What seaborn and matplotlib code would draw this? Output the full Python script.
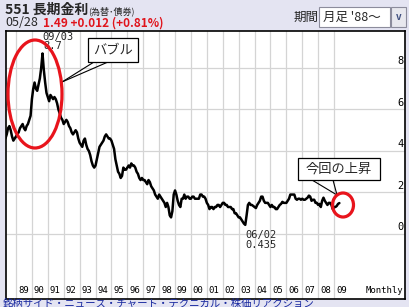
import matplotlib
matplotlib.use("Agg")
import matplotlib.pyplot as plt
from matplotlib.patches import Ellipse, Rectangle
import seaborn as sns
import pandas as pd
import numpy as np

sns.set_theme(style="white")
plt.rcParams['font.family'] = ['Noto Sans CJK JP', 'DejaVu Sans']

# Monthly 10y yield, from 1988-05 to 2009-05
start_year = 1988
start_month = 5
y1988 = [4.6, 4.8, 5.1, 5.2, 5.0, 4.7, 4.5, 4.6]
y1989 = [4.7, 4.8, 4.9, 5.1, 5.2, 5.3, 5.1, 5.0, 5.2, 5.3, 5.5, 5.7]
y1990 = [6.5, 7.0, 7.3, 7.0, 6.9, 7.2, 7.5, 8.0, 8.7, 7.9, 7.3, 6.8]
y1991 = [6.6, 6.4, 6.7, 6.6, 6.5, 6.6, 6.5, 6.3, 6.0, 5.8, 5.6, 5.5]
y1992 = [5.3, 5.4, 5.5, 5.4, 5.2, 5.1, 4.9, 4.8, 4.9, 5.0, 4.9, 4.6]
y1993 = [4.4, 4.3, 4.2, 4.5, 4.6, 4.3, 4.1, 4.0, 3.8, 3.5, 3.3, 3.2]
y1994 = [3.3, 3.6, 3.9, 4.2, 4.3, 4.4, 4.5, 4.7, 4.8, 4.7, 4.6, 4.6]
y1995 = [4.5, 4.3, 4.1, 3.6, 3.3, 3.0, 2.9, 2.7, 2.8, 3.2, 3.1, 3.1]
y1996 = [3.2, 3.3, 3.2, 3.4, 3.3, 3.3, 3.2, 3.0, 2.9, 2.7, 2.6, 2.7]
y1997 = [2.6, 2.6, 2.5, 2.4, 2.6, 2.5, 2.3, 2.2, 2.1, 1.9, 1.8, 1.7]
y1998 = [1.9, 1.8, 1.7, 1.6, 1.5, 1.3, 1.5, 1.3, 0.9, 0.8, 1.1, 1.9]
y1999 = [2.1, 1.9, 1.6, 1.4, 1.3, 1.7, 1.7, 1.9, 1.7, 1.8, 1.8, 1.7]
y2000 = [1.7, 1.8, 1.8, 1.7, 1.7, 1.7, 1.7, 1.9, 1.9, 1.8, 1.8, 1.7]
y2001 = [1.5, 1.4, 1.2, 1.3, 1.3, 1.2, 1.3, 1.3, 1.4, 1.4, 1.3, 1.4]
y2002 = [1.5, 1.5, 1.4, 1.4, 1.3, 1.3, 1.3, 1.2, 1.2, 1.0, 1.0, 0.9]
y2003 = [0.8, 0.8, 0.7, 0.6, 0.5, 0.44, 0.9, 1.4, 1.5, 1.4, 1.4, 1.35]
y2004 = [1.3, 1.25, 1.4, 1.5, 1.6, 1.8, 1.8, 1.6, 1.5, 1.5, 1.5, 1.4]
y2005 = [1.3, 1.4, 1.3, 1.3, 1.2, 1.2, 1.3, 1.4, 1.45, 1.55, 1.5, 1.5]
y2006 = [1.5, 1.6, 1.7, 1.9, 1.9, 1.9, 1.9, 1.7, 1.65, 1.7, 1.7, 1.65]
y2007 = [1.7, 1.65, 1.65, 1.7, 1.75, 1.85, 1.8, 1.6, 1.65, 1.65, 1.5, 1.5]
y2008 = [1.4, 1.45, 1.3, 1.6, 1.75, 1.6, 1.5, 1.4, 1.5, 1.5, 1.4, 1.2]
y2009 = [1.3, 1.3, 1.35, 1.45, 1.49]

year_labels = ["89", "90", "91", "92", "93", "94", "95", "96", "97", "98", "99",
               "00", "01", "02", "03", "04", "05", "06", "07", "08", "09"]
y_ticks = [0, 2, 4, 6, 8]

values = (y1988 + y1989 + y1990 + y1991 + y1992 + y1993 + y1994 + y1995 + y1996
          + y1997 + y1998 + y1999 + y2000 + y2001 + y2002 + y2003 + y2004 + y2005
          + y2006 + y2007 + y2008 + y2009)
t = [start_year + (start_month - 1 + i) / 12.0 for i in range(len(values))]
df = pd.DataFrame({"t": t, "v": values})

W, H = 409, 307
bg = "#e4e4f2"
fig = plt.figure(figsize=(W / 100, H / 100), dpi=100, facecolor=bg)

def fx(px):
    return px / W

def fy(py):
    return 1 - py / H

ax = fig.add_axes([fx(6), fy(299), fx(405) - fx(6), fy(31) - fy(299)])
ax.set_facecolor("white")

years = list(range(1989, 2010))
for yr in years:
    ax.axvline(yr, color="#d4d4d4", lw=0.9, zorder=0)
for yv in y_ticks:
    ax.axhline(yv, color="#d4d4d4", lw=0.9, zorder=0)

sns.lineplot(data=df, x="t", y="v", ax=ax, color="black", lw=1.8, zorder=3)

ax.set_xlim(1988.371, 2013.46)
ax.set_ylim(-3.133, 9.783)
ax.set_xticks([])
ax.set_yticks([])
ax.set_xlabel("")
ax.set_ylabel("")
for s in ax.spines.values():
    s.set_color("black")
    s.set_linewidth(1.2)

mono = "DejaVu Sans Mono"
for yr, lab in zip(years, year_labels):
    ax.text(yr + 0.12, -2.95, lab, fontsize=6.5, family=mono, ha="left", va="bottom", color="black")
ax.text(2013.35, -2.95, "Monthly", fontsize=6.5, family=mono, ha="right", va="bottom", color="black")
for yv in y_ticks:
    ax.text(2013.38, yv + 0.08, str(yv), fontsize=7.5, family=mono, ha="right", va="bottom", color="black")

# annotations (figure pixel coords)
ft = fig.transFigure
fig.text(fx(42), fy(37), "09/03", fontsize=7.5, family=mono, ha="left", va="center")
fig.text(fx(43), fy(46), "8.7", fontsize=7.5, family=mono, ha="left", va="center")
fig.text(fx(245), fy(235), "06/02", fontsize=7.5, family=mono, ha="left", va="center")
fig.text(fx(245), fy(245), "0.435", fontsize=7.5, family=mono, ha="left", va="center")

fig.patches.append(Ellipse((fx(35), fy(94)), fx(54), 108 / H, transform=ft,
                           fill=False, ec="#e8141c", lw=2.3, zorder=5))
fig.patches.append(Ellipse((fx(343), fy(205)), fx(21), 24 / H, transform=ft,
                           fill=False, ec="#e8141c", lw=2.3, zorder=5))

# callout boxes
fig.patches.append(Rectangle((fx(88), fy(62)), fx(50), 24 / H, transform=ft,
                             fc="white", ec="black", lw=0.9, zorder=6))
fig.text(fx(113), fy(50), "バブル", fontsize=9.5, ha="center", va="center", zorder=7)
fig.lines.append(plt.Line2D([fx(94), fx(62)], [fy(62), fy(82)], transform=ft, color="black", lw=0.8))
fig.lines.append(plt.Line2D([fx(108), fx(62)], [fy(62), fy(82)], transform=ft, color="black", lw=0.8))

fig.patches.append(Rectangle((fx(298), fy(180)), fx(82), 22 / H, transform=ft,
                             fc="white", ec="black", lw=0.9, zorder=6))
fig.text(fx(339), fy(169), "今回の上昇", fontsize=9.5, ha="center", va="center", zorder=7)
fig.lines.append(plt.Line2D([fx(312), fx(337)], [fy(180), fy(195)], transform=ft, color="black", lw=0.8))
fig.lines.append(plt.Line2D([fx(333), fx(337)], [fy(180), fy(195)], transform=ft, color="black", lw=0.8))

# header
fig.text(fx(5), fy(10), "551 長期金利", fontsize=10, fontweight="bold", ha="left", va="center")
fig.text(fx(88), fy(11), "(為替･債券)", fontsize=6.5, ha="left", va="center")
fig.text(fx(5), fy(23), "05/28", fontsize=9, ha="left", va="center")
fig.text(fx(43), fy(23), "1.49 +0.012 (+0.81%)", fontsize=8.5, fontweight="bold",
         color="#e0141c", ha="left", va="center")
fig.text(fx(294), fy(17), "期間", fontsize=9, ha="left", va="center")
fig.patches.append(Rectangle((fx(319), fy(27)), fx(71), 20 / H, transform=ft,
                             fc="white", ec="#8c8c9c", lw=0.8))
fig.text(fx(323), fy(17), "月足 '88～", fontsize=9, ha="left", va="center")
fig.patches.append(Rectangle((fx(391), fy(27)), fx(15), 20 / H, transform=ft,
                             fc="#e8e8ee", ec="#8c8c9c", lw=0.8))
fig.text(fx(398.5), fy(17), "v", fontsize=7, fontweight="bold", color="#405080", ha="center", va="center")

# footer
fig.text(fx(3), fy(303.5), "銘柄サイド・ニュース・チャート・テクニカル・株価リアクション", fontsize=7.5,
         color="#1a2aa0", ha="left", va="center")

fig.savefig("out.png", dpi=100, facecolor=bg)
